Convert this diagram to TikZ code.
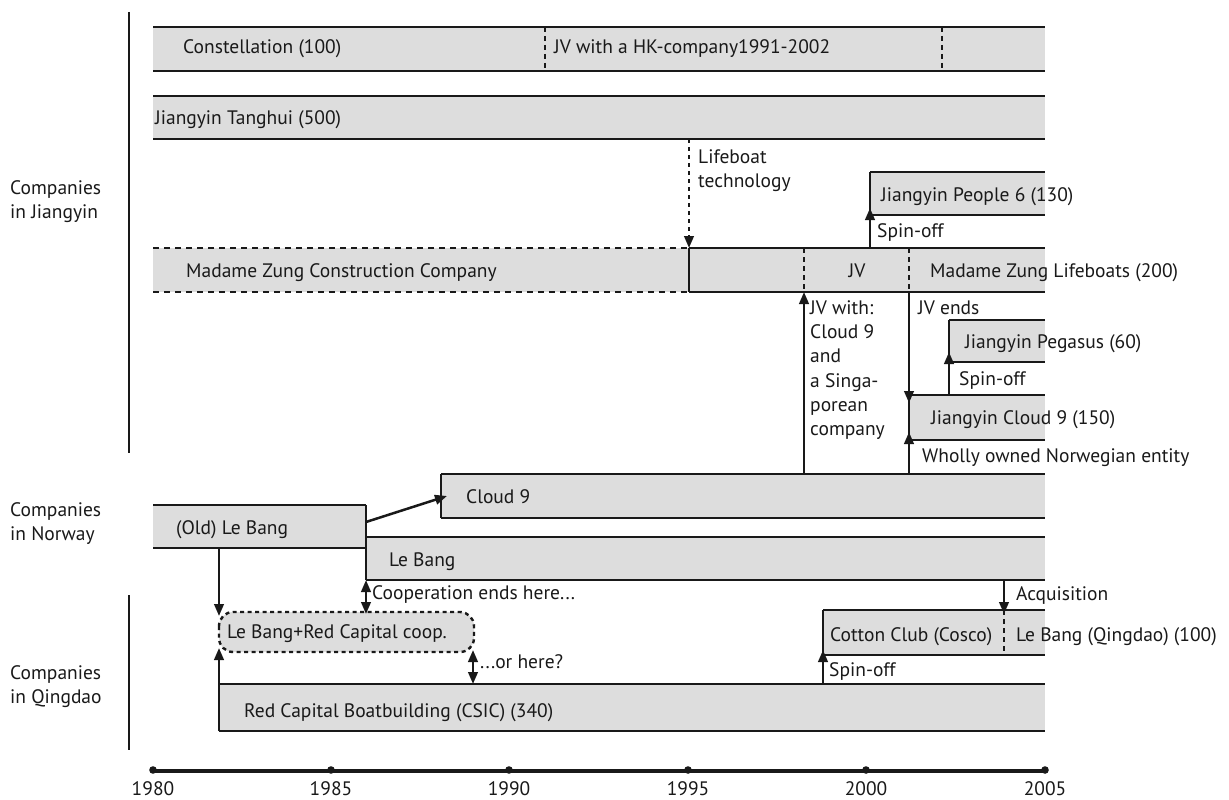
\documentclass[tikz,border=0pt]{standalone}
\usepackage{fontspec}
\setmainfont{PT Sans}
\usetikzlibrary{arrows.meta}
\definecolor{barfill}{RGB}{221,221,221}
\definecolor{ink}{RGB}{25,25,25}
\newcommand\drawbar[5]{%
  \fill[barfill] (#2,#3) rectangle (#4,#5);
  \draw[edge] (#2,#3) -- (#4,#3) (#2,#5) -- (#4,#5);
  \coordinate (#1-nw) at (#2,#3);
  \coordinate (#1-sw) at (#2,#5);
}
\begin{document}
\begin{tikzpicture}[x=1pt,y=-1pt,
  edge/.style={line width=2.8pt, draw=ink},
  lbl/.style={anchor=base west, inner sep=0pt, font=\fontsize{19.5}{22}\selectfont, text=ink},
  yr/.style={anchor=base, inner sep=0pt, font=\fontsize{19.5}{22}\selectfont, text=ink},
  arr/.style={line width=2.5pt, draw=ink, -{Triangle[length=12pt,width=9.5pt]}},
  darr/.style={line width=2.5pt, draw=ink, {Triangle[length=12pt,width=9.5pt]}-{Triangle[length=12pt,width=9.5pt]}},
  sep/.style={line width=2.6pt, draw=ink, dash pattern=on 5pt off 4pt},
  dotl/.style={line width=2.6pt, draw=ink, dash pattern=on 4pt off 4pt},
  bracket/.style={line width=2.4pt, draw=ink}]
\useasboundingbox (0,0) rectangle (1229,800);

% section brackets
\coordinate (jbt) at (129,12); \coordinate (jbb) at (129,453);
\coordinate (qbt) at (129,595); \coordinate (qbb) at (129,750);
\draw[bracket] (jbt) -- (jbb);
\draw[bracket] (qbt) -- (qbb);
\node[lbl] (secj1) at (10,194) {Companies};
\node[lbl] (secj2) at (10,218) {in Jiangyin};
\node[lbl] (secn1) at (10,516) {Companies};
\node[lbl] (secn2) at (10,540) {in Norway};
\node[lbl] (secq1) at (10,679) {Companies};
\node[lbl] (secq2) at (10,703) {in Qingdao};

% Constellation
\drawbar{con}{153}{27}{1045}{71}
\coordinate (cond1t) at (545,27); \coordinate (cond1b) at (545,71);
\coordinate (cond2t) at (942,27); \coordinate (cond2b) at (942,71);
\draw[sep] (cond1t) -- (cond1b);
\draw[sep] (cond2t) -- (cond2b);
\node[lbl] (conl) at (183,54) {Constellation (100)};
\node[lbl] (conjv) at (554,54) {JV with a HK-company1991-2002};

% Jiangyin Tanghui
\drawbar{tan}{153}{96}{1045}{139}
\node[lbl] (tanl) at (155,124) {Jiangyin Tanghui (500)};

% Madame Zung
\fill[barfill] (153,248) rectangle (1045,292);
\draw[edge, dash pattern=on 6pt off 5pt] (153,248) -- (689,248) (153,292) -- (689,292);
\draw[edge] (689,248) -- (1045,248) (689,292) -- (1045,292);
\coordinate (mzt) at (689,248); \coordinate (mzb) at (689,292);
\draw[edge] (mzt) -- (mzb);
\coordinate (mzd1t) at (804,248); \coordinate (mzd1b) at (804,292);
\coordinate (mzd2t) at (909,248); \coordinate (mzd2b) at (909,292);
\draw[sep] (mzd1t) -- (mzd1b);
\draw[sep] (mzd2t) -- (mzd2b);
\node[lbl] (mzc) at (186,277) {Madame Zung Construction Company};
\node[yr] (mzjv) at (857,277) {JV};
\node[lbl] (mzl) at (930,277) {Madame Zung Lifeboats (200)};

% Lifeboat technology
\coordinate (lbt) at (689,139);
\draw[dotl] (lbt) -- (689,236);
\draw[arr] (689,236) -- (mzt);
\node[lbl] (lbl1) at (698,163) {Lifeboat};
\node[lbl] (lbl2) at (698,187) {technology};

% Jiangyin People 6
\drawbar{ppl}{870}{172}{1045}{215}
\draw[edge] (ppl-nw) -- (ppl-sw);
\coordinate (pplsrc) at (870,248);
\coordinate (ppltip) at (870,208);
\draw[arr] (pplsrc) -- (ppltip);
\node[lbl] (ppll) at (881,201) {Jiangyin People 6 (130)};
\node[lbl] (pplso) at (877,237) {Spin-off};

% Jiangyin Pegasus
\drawbar{peg}{949}{320}{1045}{362}
\draw[edge] (peg-nw) -- (peg-sw);
\node[lbl] (pegl) at (965,348) {Jiangyin Pegasus (60)};
\node[lbl] (pegso) at (959,385) {Spin-off};

% Jiangyin Cloud 9
\drawbar{jc}{909}{395}{1045}{440}
\draw[edge] (jc-nw) -- (jc-sw);
\coordinate (pegsrc) at (949,395);
\coordinate (pegtip) at (949,352);
\draw[arr] (pegsrc) -- (pegtip);
\node[lbl] (jcl) at (931,424) {Jiangyin Cloud 9 (150)};
\node[lbl] (jvends) at (918,314) {JV ends};
\node[lbl] (wholly) at (922,462) {Wholly owned Norwegian entity};

% Cloud 9 (Norway)
\drawbar{c9}{441}{474}{1045}{518}
\draw[edge] (c9-nw) -- (c9-sw);
\node[lbl] (c9l) at (466,503) {Cloud 9};

% JV arrows
\coordinate (jvsrc) at (804,474);
\draw[arr] (jvsrc) -- (mzd1b);
\coordinate (jesrc) at (909,474);
\draw[arr] (mzd2b) -- (909,403);
\draw[arr] (jesrc) -- (909,432);
\node[lbl] (jvw1) at (810,314) {JV with:};
\node[lbl] (jvw2) at (810,338) {Cloud 9};
\node[lbl] (jvw3) at (810,362) {and};
\node[lbl] (jvw4) at (810,387) {a Singa-};
\node[lbl] (jvw5) at (810,411) {porean};
\node[lbl] (jvw6) at (810,435) {company};

% (Old) Le Bang and Le Bang
\drawbar{olb}{153}{505}{366}{548}
\drawbar{lb}{366}{537}{1045}{580}
\draw[edge] (366,505) -- (lb-sw);
\node[lbl] (olbl) at (176,534) {(Old) Le Bang};
\node[lbl] (lbl) at (389,566) {Le Bang};
\coordinate (olbsrc) at (366,522);
\coordinate (c9tgt) at (447,496);
\draw[arr] (olbsrc) -- (c9tgt);

% Cooperation
\fill[barfill, rounded corners=14pt] (219,612) rectangle (474,652);
\draw[line width=2.4pt, draw=ink, dash pattern=on 4pt off 3.5pt, rounded corners=14pt] (219,612) rectangle (474,652);
\node[lbl] (coop) at (227,638) {Le Bang+Red Capital coop.};
\coordinate (coopa) at (219,616);
\coordinate (coopb) at (366,614);
\coordinate (coopc) at (473,650);
\coordinate (coopd) at (219,648);
\coordinate (olbb) at (219,548);
\draw[arr] (olbb) -- (coopa);
\draw[darr] (lb-sw) -- (coopb);
\node[lbl] (coopends) at (372,599) {Cooperation ends here...};

% Red Capital
\drawbar{rc}{219}{684}{1045}{731}
\draw[arr] (rc-sw) -- (coopd);
\coordinate (rcor) at (473,684);
\draw[darr] (coopc) -- (rcor);
\node[lbl] (orhere) at (480,668) {...or here?};
\node[lbl] (rcl) at (244,717) {Red Capital Boatbuilding (CSIC) (340)};

% Cotton Club / Le Bang Qingdao
\drawbar{cc}{823}{610}{1045}{655}
\draw[edge] (cc-nw) -- (cc-sw);
\coordinate (ccdt) at (1004,610); \coordinate (ccdb) at (1004,655);
\draw[sep] (ccdt) -- (ccdb);
\coordinate (ccsrc) at (823,684);
\coordinate (cctip) at (823,650);
\draw[arr] (ccsrc) -- (cctip);
\coordinate (acqsrc) at (1004,580);
\coordinate (acqtip) at (1004,614);
\draw[arr] (acqsrc) -- (acqtip);
\node[lbl] (ccl) at (830,641) {Cotton Club (Cosco)};
\node[lbl] (lbq) at (1016,641) {Le Bang (Qingdao) (100)};
\node[lbl] (acq) at (1016,600) {Acquisition};
\node[lbl] (ccso) at (829,676) {Spin-off};

% Axis
\coordinate (ax0) at (153,771);
\coordinate (ax1) at (1045,771);
\draw[line width=3.2pt, draw=ink] (ax0) -- (ax1);
\foreach \x/\y in {153/1980,331/1985,509/1990,688/1995,866/2000,1045/2005}{
  \fill[ink] (\x,770) circle (3.8pt);
  \node[yr] (y\y) at (\x,795) {\y};
}
\end{tikzpicture}
\end{document}
